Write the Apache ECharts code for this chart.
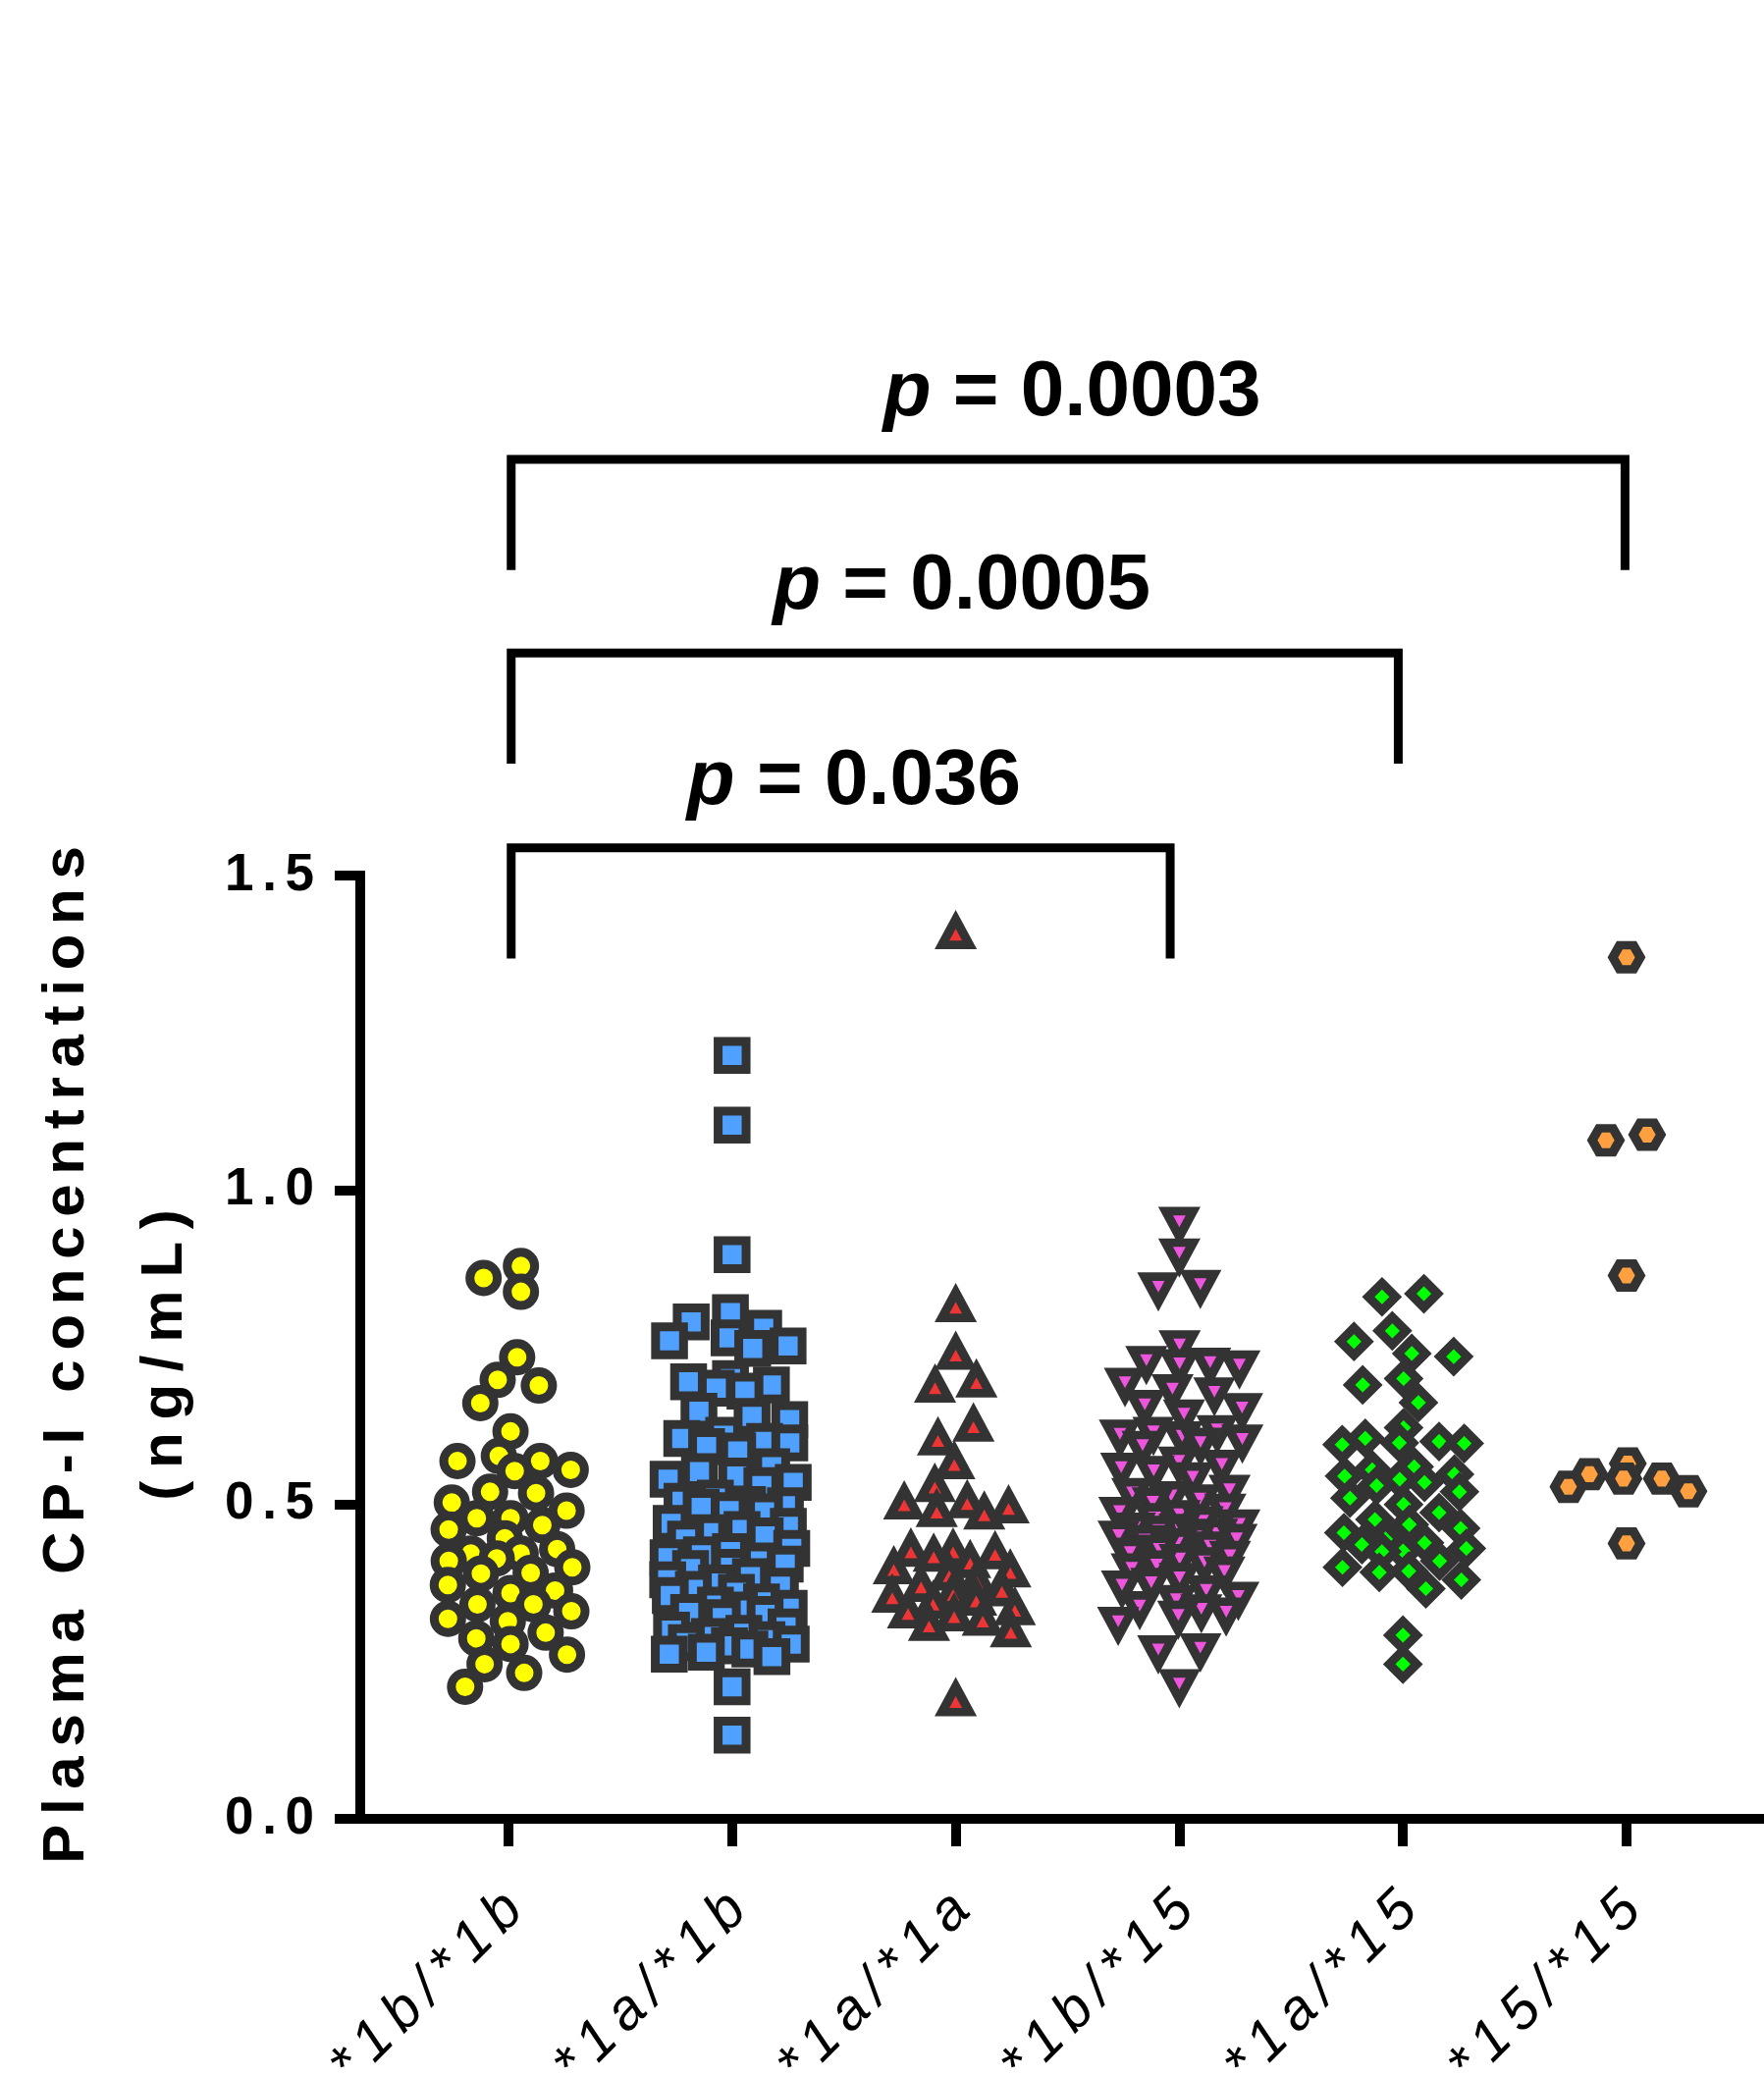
<!DOCTYPE html>
<html>
<head>
<meta charset="utf-8">
<script src="https://cdn.jsdelivr.net/npm/echarts@6/dist/echarts.min.js"></script>
<style>
html,body{margin:0;padding:0;background:#fff;}
#chart{width:1797px;height:2115px;}
</style>
</head>
<body>
<div id="chart"></div>
<script>
// ---------------- DATA ----------------
const categories = ['*1b/*1b', '*1a/*1b', '*1a/*1a', '*1b/*15', '*1a/*15', '*15/*15'];
const yTicks = [0, 0.5, 1.0, 1.5];

const g1b1b = [0.879, 0.860, 0.838, 0.734, 0.698, 0.689, 0.661, 0.616, 0.577, 0.569, 0.569, 0.555, 0.553,
  0.520, 0.518, 0.503, 0.490, 0.478, 0.478, 0.467, 0.460, 0.446, 0.429, 0.422, 0.422, 0.414, 0.410, 0.400,
  0.391, 0.390, 0.372, 0.363, 0.359, 0.341, 0.341, 0.330, 0.318, 0.314, 0.296, 0.287, 0.278, 0.261, 0.246,
  0.232, 0.210];
const g1a1b = [1.214, 1.103, 0.897, 0.805, 0.790, 0.780, 0.765, 0.760, 0.752, 0.748,
  0.700, 0.695, 0.690, 0.685, 0.680, 0.648, 0.640, 0.635,
  0.610, 0.605, 0.600, 0.598, 0.592, 0.585, 0.560, 0.552, 0.545, 0.540, 0.535, 0.530,
  0.510, 0.505, 0.500, 0.498, 0.495, 0.490, 0.488, 0.470, 0.465, 0.460, 0.455, 0.450, 0.445,
  0.430, 0.425, 0.420, 0.415, 0.410, 0.405, 0.400, 0.398, 0.385, 0.380, 0.375, 0.370, 0.365, 0.360, 0.355,
  0.345, 0.340, 0.335, 0.332, 0.328, 0.325, 0.320,
  0.305, 0.300, 0.295, 0.290, 0.285, 0.280, 0.278, 0.275, 0.270, 0.265, 0.262, 0.258, 0.210, 0.133];
const g1a1a = [1.410, 0.817, 0.741, 0.697, 0.689, 0.627, 0.605, 0.567, 0.531, 0.505, 0.503, 0.497, 0.491,
  0.487, 0.428, 0.428, 0.424, 0.420, 0.410, 0.400, 0.395, 0.390, 0.380, 0.372, 0.365, 0.360, 0.355, 0.350,
  0.345, 0.335, 0.330, 0.325, 0.318, 0.310, 0.300, 0.190];
const g1b15 = [0.946, 0.896, 0.846, 0.842, 0.750, 0.725, 0.722, 0.720, 0.718, 0.690, 0.680, 0.675, 0.655,
  0.650, 0.640, 0.615, 0.612, 0.608, 0.605, 0.600, 0.595, 0.590, 0.565, 0.560, 0.555, 0.550, 0.540, 0.520,
  0.515, 0.510, 0.505, 0.500, 0.490, 0.485, 0.480, 0.475, 0.470, 0.465, 0.460, 0.458, 0.455, 0.450, 0.447,
  0.445, 0.442, 0.440, 0.435, 0.430, 0.425, 0.420, 0.415, 0.410, 0.405, 0.400, 0.395, 0.390, 0.380, 0.372,
  0.368, 0.360, 0.350, 0.345, 0.335, 0.330, 0.325, 0.320, 0.310, 0.268, 0.265, 0.211];
const g1a15 = [0.835, 0.830, 0.776, 0.759, 0.740, 0.735, 0.700, 0.690, 0.662, 0.622, 0.605, 0.600, 0.598,
  0.597, 0.595, 0.560, 0.555, 0.548, 0.545, 0.540, 0.535, 0.530, 0.520, 0.510, 0.500, 0.487, 0.476, 0.468,
  0.462, 0.455, 0.445, 0.439, 0.436, 0.430, 0.426, 0.425, 0.410, 0.400, 0.394, 0.392, 0.380, 0.366, 0.292,
  0.246];
const g1515 = [1.370, 1.088, 1.079, 0.864, 0.565, 0.548, 0.541, 0.541, 0.528, 0.521, 0.438];

// significance brackets (in data coordinates of the plot)
const bracketFrom = [1.012, 1.012, 1.012];
const bracketTo = [5.993, 4.979, 3.959];
const bracketLevel = [2.162, 1.854, 1.544];
const bracketLeg = [1.986, 1.678, 1.368];
const pLabelAt = [3.520, 3.026, 2.545];
const pValues = ['0.0003', '0.0005', '0.036'];

// ---------------- STYLE / LAYOUT ----------------
const FONT = "'Liberation Sans', Arial, Helvetica, sans-serif";
const GRID = { left: 367, right: 0, top: 892, bottom: 262 };
const X_MIN = 0.3371, X_MAX = 6.6146;
const W = 1797, H = 2115;
const pxPerUnitX = (W - GRID.left - GRID.right) / (X_MAX - X_MIN);
const pxPerUnitY = (H - GRID.top - GRID.bottom) / (yTicks[yTicks.length - 1] - yTicks[0]);

const groups = [g1b1b, g1a1b, g1a1a, g1b15, g1a15, g1515];
const HEX = 'path://M0,13L7.5,0L22.5,0L30,13L22.5,26L7.5,26Z';
const looks = [
  { symbol: 'circle', size: 28, rotate: 0, color: '#FFFF00' },
  { symbol: 'rect', size: 28.5, rotate: 0, color: '#50A0FF' },
  { symbol: 'triangle', size: [28, 26], rotate: 0, color: '#EE3535' },
  { symbol: 'triangle', size: [28, 26], rotate: 180, color: '#EE55DD' },
  { symbol: 'diamond', size: 28, rotate: 0, color: '#00FF00' },
  { symbol: HEX, size: [28, 24.5], rotate: 0, color: '#FFA040' }
];

// scatter-dot-plot layout: beeswarm (elliptic spacing, compressed when crowded), computed from the values
function fits(c, y, placed, dx, dy) {
  for (const p of placed) {
    const a = (c - p.x) / dx, b = (y - p.y) / dy;
    if (a * a + b * b < 1 - 1e-6) return false;
  }
  return true;
}
function place(y, placed, dx, dy) {
  const cands = [0];
  for (const p of placed) {
    const b = (p.y - y) / dy;
    if (Math.abs(b) < 1) {
      const h = dx * Math.sqrt(1 - b * b);
      cands.push(p.x - h, p.x + h);
    }
  }
  cands.sort((u, v) => (Math.abs(u) - Math.abs(v)) || (u - v));
  for (const c of cands) if (fits(c, y, placed, dx, dy)) return c;
  return 0;
}
function swarm(values, dxPx, dyPx, maxHalfPx) {
  const order = values.map((v, i) => i).sort((a, b) => values[b] - values[a]);
  const placed = [];
  const xs = new Array(values.length).fill(0);
  const factors = [1, 0.9, 0.8, 0.7, 0.6, 0.5, 0.4, 0.3, 0.2, 0];
  order.forEach(id => {
    const y = values[id] * pxPerUnitY;
    let c = 0;
    for (const f of factors) {
      if (f === 0) { c = 0; break; }
      c = place(y, placed, dxPx * f, dyPx * f);
      if (Math.abs(c) <= maxHalfPx) break;
    }
    placed.push({ x: c, y: y, id: id });
    xs[id] = c;
  });
  // centre each separate cluster of touching points
  const n = placed.length, comp = new Array(n).fill(-1);
  let nc = 0;
  for (let i = 0; i < n; i++) {
    if (comp[i] >= 0) continue;
    const stack = [i]; comp[i] = nc;
    while (stack.length) {
      const u = stack.pop();
      for (let j = 0; j < n; j++) {
        if (comp[j] >= 0) continue;
        const a = (placed[u].x - placed[j].x) / (dxPx * 1.05), b = (placed[u].y - placed[j].y) / (dyPx * 1.05);
        if (a * a + b * b < 1) { comp[j] = nc; stack.push(j); }
      }
    }
    nc++;
  }
  for (let k = 0; k < nc; k++) {
    const members = placed.filter((p, i) => comp[i] === k);
    const mean = members.reduce((s, p) => s + p.x, 0) / members.length;
    members.forEach(p => { xs[p.id] = p.x - mean; });
  }
  return xs.map(x => x / pxPerUnitX);
}

function spaced(text, cs, gs) {
  return Array.from(text).map(ch => '{' + cs + '|' + ch + '}').join('{' + gs + '| }');
}

const scatterSeries = groups.map((vals, gi) => {
  const off = swarm(vals, 43, 26, 64);
  const lk = looks[gi];
  return {
    type: 'scatter',
    name: categories[gi],
    data: vals.map((v, i) => [gi + 1 + off[i], v]),
    symbol: lk.symbol,
    symbolSize: lk.size,
    symbolRotate: lk.rotate,
    itemStyle: { color: lk.color, borderColor: '#333333', borderWidth: 9, borderJoin: 'miter', borderMiterLimit: 10, opacity: 1 },
    emphasis: { disabled: true },
    z: 3
  };
});

const bracketData = bracketFrom.map((f, i) => [f, bracketTo[i], bracketLevel[i], bracketLeg[i], pLabelAt[i], i]);

const bracketSeries = {
  type: 'custom',
  clip: false,
  silent: true,
  encode: { x: [0, 1], y: [2, 3] },
  data: bracketData,
  renderItem: function (params, api) {
    const x1 = api.value(0), x2 = api.value(1), lvl = api.value(2), low = api.value(3);
    const lx = api.value(4), k = api.value(5);
    const a = api.coord([x1, low]), b = api.coord([x1, lvl]), c = api.coord([x2, lvl]), d = api.coord([x2, low]);
    const t = api.coord([lx, lvl]);
    return {
      type: 'group',
      children: [
        { type: 'polyline', shape: { points: [a, b, c, d] },
          style: { stroke: '#000', lineWidth: 9, fill: null, lineJoin: 'miter', lineCap: 'butt' } },
        { type: 'text', x: t[0], y: t[1] - 67,
          style: {
            text: '{i|p}{n| = ' + pValues[k] + '}',
            align: 'center', verticalAlign: 'middle', fill: '#000',
            rich: {
              i: { fontSize: 80, fontWeight: 'bold', fontStyle: 'italic', fontFamily: FONT, fill: '#000' },
              n: { fontSize: 80, fontWeight: 'bold', fontFamily: FONT, fill: '#000' }
            }
          } }
      ]
    };
  },
  z: 2
};

const chart = echarts.init(document.getElementById('chart'), null, { renderer: 'canvas', width: W, height: H });

const option = {
  backgroundColor: '#ffffff',
  animation: false,
  grid: { left: GRID.left, right: GRID.right, top: GRID.top, bottom: GRID.bottom, containLabel: false, outerBoundsMode: 'none' },
  xAxis: {
    type: 'value',
    min: X_MIN, max: X_MAX,
    splitLine: { show: false },
    axisLine: { show: true, onZero: false, lineStyle: { color: '#000', width: 10, cap: 'square' } },
    axisTick: { show: true, customValues: categories.map((c, i) => i + 1), length: 28, lineStyle: { color: '#000', width: 10 } },
    axisLabel: {
      show: true,
      customValues: categories.map((c, i) => i + 1),
      rotate: 45,
      margin: 90,
      padding: [0, -8, 0, 0],
      color: '#000',
      fontSize: 58,
      fontStyle: 'italic',
      fontFamily: FONT,
      formatter: v => spaced(categories[Math.round(v) - 1], 'c', 'g'),
      rich: {
        c: { fontSize: 58, fontStyle: 'italic', fontFamily: FONT, color: '#000' },
        g: { fontSize: 36, fontFamily: FONT }
      }
    }
  },
  yAxis: {
    type: 'value',
    min: yTicks[0], max: yTicks[yTicks.length - 1], interval: yTicks[1] - yTicks[0],
    splitLine: { show: false },
    axisLine: { show: true, lineStyle: { color: '#000', width: 10, cap: 'square' } },
    axisTick: { show: true, length: 26, lineStyle: { color: '#000', width: 10 } },
    axisLabel: {
      margin: 47,
      color: '#000',
      fontSize: 53,
      fontWeight: 'bold',
      fontFamily: FONT,
      formatter: v => spaced(v.toFixed(1), 'c', 'g'),
      rich: {
        c: { fontSize: 53, fontWeight: 'bold', fontFamily: FONT, color: '#000' },
        g: { fontSize: 31, fontFamily: FONT }
      }
    },
    name: spaced('Plasma CP-I concentrations', 't', 'g1') + '\n' + spaced('(ng/mL)', 't', 'g2'),
    nameLocation: 'middle',
    nameRotate: 90,
    nameGap: 141,
    nameTextStyle: {
      color: '#000', fontSize: 60, fontWeight: 'bold', fontFamily: FONT, lineHeight: 100,
      padding: [0, 16, 0, 0],
      rich: {
        t: { fontSize: 60, fontWeight: 'bold', fontFamily: FONT, color: '#000', lineHeight: 100 },
        g1: { fontSize: 35, fontFamily: FONT, lineHeight: 100 },
        g2: { fontSize: 46, fontFamily: FONT, lineHeight: 100 }
      }
    }
  },
  series: scatterSeries.concat([bracketSeries])
};

chart.setOption(option);
</script>
</body>
</html>
